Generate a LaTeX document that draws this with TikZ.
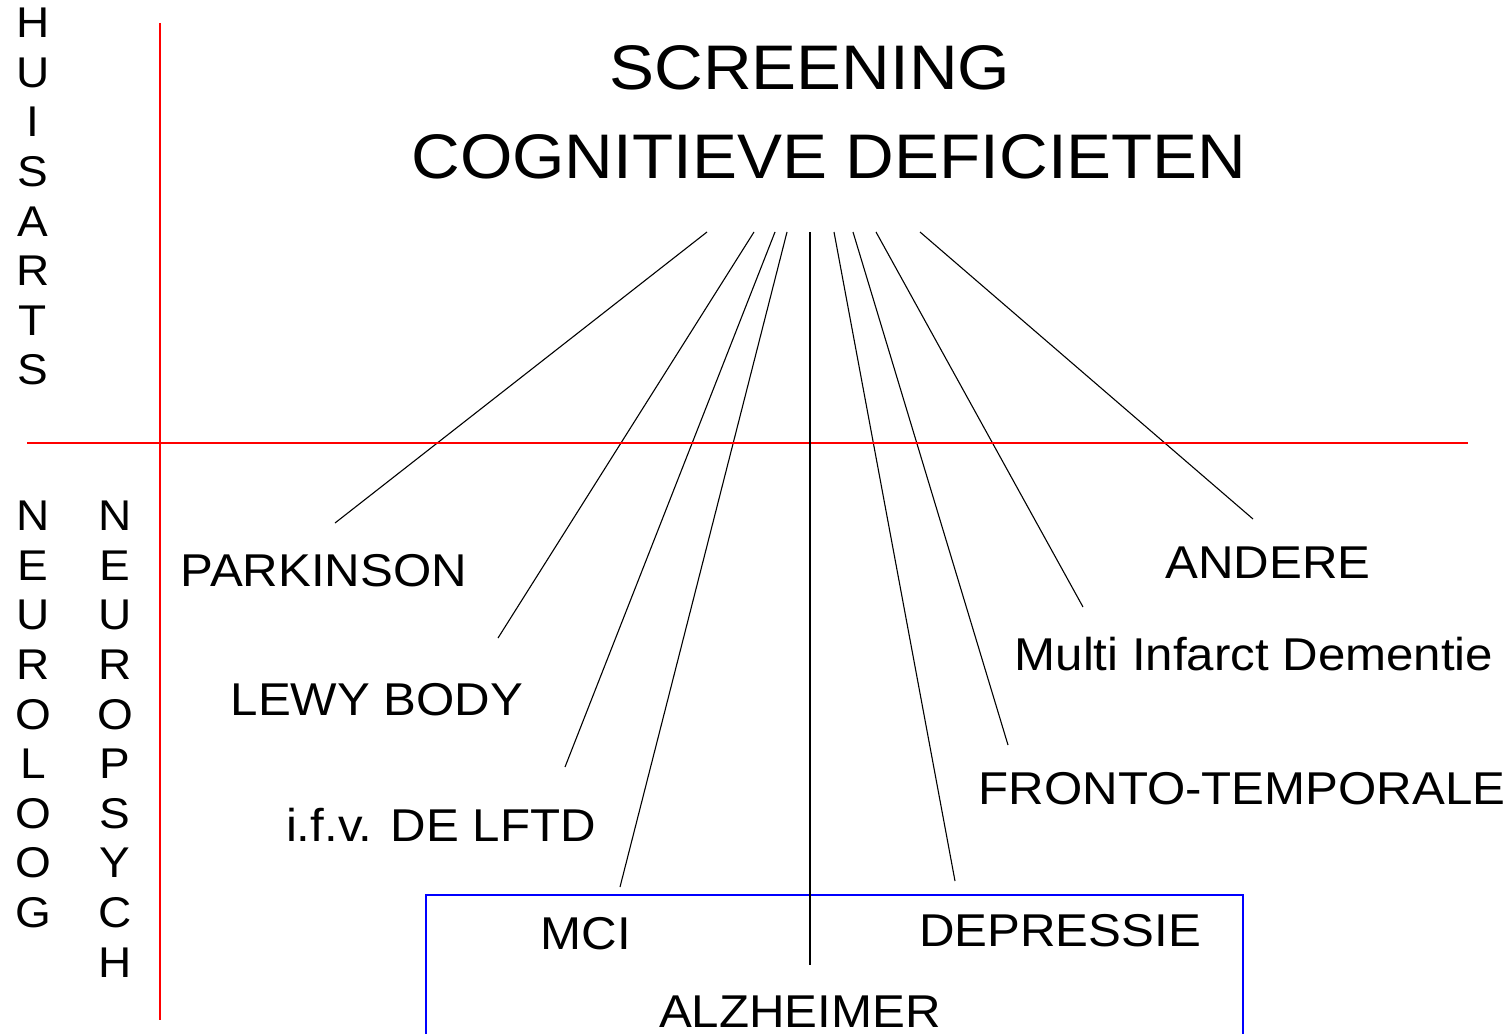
\documentclass[tikz,border=0pt]{standalone}
\usepackage{fontspec}
\setmainfont[FakeStretch=1.07]{Liberation Sans}
\usepackage{tikz}
\usetikzlibrary{positioning, calc}
\definecolor{axisred}{HTML}{FF0000}
\definecolor{boxblue}{HTML}{0000FF}

\begin{document}
\begin{tikzpicture}[
    x=1pt, y=-1pt,
    label/.style={anchor=base, inner sep=0pt, font=\fontsize{46}{50}\selectfont},
    title/.style={anchor=base, inner sep=0pt, font=\fontsize{63}{70}\selectfont},
    vert/.style={anchor=north, inner sep=0pt, align=center, font=\fontsize{43}{49.6}\selectfont},
    link/.style={line width=1.1pt, black},
    axis/.style={line width=1.8pt, axisred},
]
    \useasboundingbox (0,0) rectangle (1511,1033);

    % Title
    \node[title] (screen) at (810,89) {SCREENING};
    \node[title] (cogn) at (829,178) {COGNITIEVE DEFICIETEN};

    % Side labels
    \node[vert] (huisarts) at (33,8) {H\\U\\I\\S\\A\\R\\T\\S};
    \node[vert] (neuroloog) at (33,501) {N\\E\\U\\R\\O\\L\\O\\O\\G};
    \node[vert] (neuropsych) at (115,501) {N\\E\\U\\R\\O\\P\\S\\Y\\C\\H};

    % Diagnoses
    \node[label] (parkinson) at (324,586) {PARKINSON};
    \node[label] (lewy) at (377,715) {LEWY BODY};
    \node[label] (lftd) at (441,841) {i.f.v. DE LFTD};
    \node[label] (mci) at (586,949) {MCI};
    \node[label] (alzheimer) at (800,1027) {ALZHEIMER};
    \node[label] (depressie) at (1060,946) {DEPRESSIE};
    \node[label] (fronto) at (1242,804) {FRONTO-TEMPORALE};
    \node[label] (multi) at (1254,670) {Multi Infarct Dementie};
    \node[label] (andere) at (1268,578) {ANDERE};

    % Line ends
    \coordinate (t1) at (707,232);  \coordinate (b1) at (335,523);
    \coordinate (t2) at (754,232);  \coordinate (b2) at (498,638);
    \coordinate (t3) at (775,232);  \coordinate (b3) at (565,767);
    \coordinate (t4) at (787,232);  \coordinate (b4) at (620,887);
    \coordinate (t5) at (810,232);  \coordinate (b5) at (810,965);
    \coordinate (t6) at (834,232);  \coordinate (b6) at (955,881);
    \coordinate (t7) at (853,232);  \coordinate (b7) at (1008,745);
    \coordinate (t8) at (876,232);  \coordinate (b8) at (1083,607);
    \coordinate (t9) at (920,232);  \coordinate (b9) at (1253,519);

    % Box round the main group
    \draw[line width=1.8pt, boxblue] (426,895) rectangle (1243,1045);

    % Lines
    \draw[link] (t1) -- (b1);
    \draw[link] (t2) -- (b2);
    \draw[link] (t3) -- (b3);
    \draw[link] (t4) -- (b4);
    \draw[link] (t6) -- (b6);
    \draw[link] (t7) -- (b7);
    \draw[link] (t8) -- (b8);
    \draw[link] (t9) -- (b9);

    % Axes
    \coordinate (vtop) at (160,23);  \coordinate (vbot) at (160,1020);
    \coordinate (hleft) at (27,443); \coordinate (hright) at (1468,443);
    \draw[axis] (vtop) -- (vbot);
    \draw[axis] (hleft) -- (hright);

    \draw[link] (t5) -- (b5);
\end{tikzpicture}
\end{document}
